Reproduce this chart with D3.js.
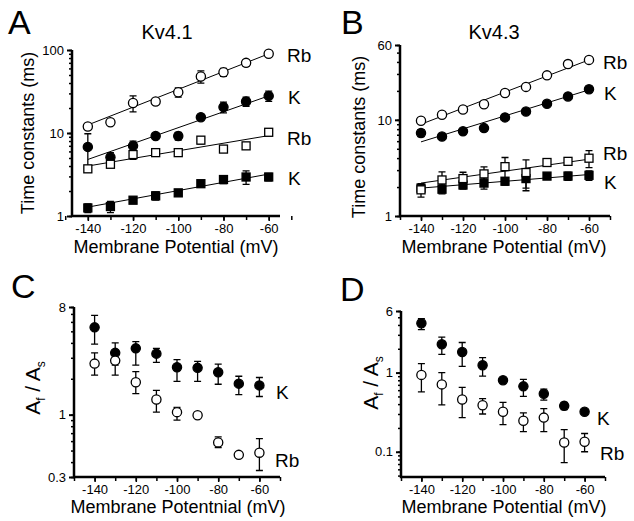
<!DOCTYPE html>
<html lang="en">
<head>
<meta charset="UTF-8">
<title></title>
<script src="https://d3js.org/d3.v7.min.js"></script>
<style>
  body { margin: 0; background: #fff; }
  text { font-family: Arial, "Liberation Sans", sans-serif; fill: #000; }
</style>
</head>
<body>
<script>

var w = 634;
var h = 521;

var volts = [-140, -130, -120, -110, -100, -90, -80, -70, -60];

// panel A, Kv4.1 time constants (ms)
var aRbSlow = [12, 13.5, 23, 24, 31, 48, 54, 70, 90];
var aRbSlowErr = [1, 1, 5, 2, 4, 8, 6, 6, 5];
var aKSlow = [6.8, 5.1, 7.0, 9.2, 9.2, 15.5, 20.5, 24, 28];
var aKSlowErr = [3, 0.7, 1, 0.5, 1, 1, 3, 3, 4];
var aRbFast = [3.7, 4.2, 5.5, 5.8, 5.8, 8.2, 6.4, 7.0, 10.2];
var aRbFastErr = [0.3, 0.3, 0.7, 0.3, 0.3, 0.8, 0.4, 0.4, 0.7];
var aKFast = [1.25, 1.3, 1.55, 1.75, 1.9, 2.45, 2.75, 2.95, 2.95];
var aKFastErr = [0.15, 0.2, 0.1, 0.2, 0.15, 0.1, 0.3, 0.55, 0.3];
var aFits = [[12.5, 90], [4.8, 28], [4.0, 9.3], [1.28, 3.2]];

// panel B, Kv4.3 time constants (ms)
var bRbSlow = [9.8, 11.3, 12.8, 14.5, 19, 22, 29, 38, 42];
var bRbSlowErr = [0.5, 0.5, 0.6, 0.6, 0.8, 0.8, 1, 1.5, 1.5];
var bKSlow = [7.3, 6.7, 7.6, 8.2, 10.6, 12.2, 14.7, 17.5, 20.8];
var bKSlowErr = [0.6, 0.4, 0.4, 0.5, 0.5, 0.5, 0.6, 0.8, 1.5];
var bRbFast = [1.87, 2.37, 2.45, 2.74, 3.26, 2.83, 3.6, 3.7, 3.99];
var bRbFastErr = [0.3, 0.5, 0.4, 0.5, 0.8, 1.0, 0.2, 0.3, 0.8];
var bKFast = [1.95, 1.9, 2.1, 2.2, 2.3, 2.45, 2.6, 2.6, 2.65];
var bKFastErr = [0.15, 0.2, 0.2, 0.3, 0.2, 0.5, 0.15, 0.25, 0.3];
var bFits = [[9.0, 42], [5.9, 20.5], [2.2, 3.9], [1.95, 2.7]];

// panel C, Kv4.1 Af / As
var cK = [5.4, 3.3, 3.6, 3.25, 2.5, 2.47, 2.27, 1.82, 1.76];
var cKLo = [3.9, 2.6, 2.6, 2.75, 1.9, 1.9, 1.8, 1.47, 1.42];
var cKHi = [6.8, 4.0, 4.1, 3.6, 2.9, 2.8, 2.65, 2.1, 2.05];
var cRb = [2.68, 2.84, 1.87, 1.34, 1.05, 0.99, 0.585, 0.46, 0.48];
var cRbLo = [2.15, 2.15, 1.5, 1.05, 0.9, 0.96, 0.53, 0.44, 0.34];
var cRbHi = [3.3, 3.3, 2.3, 1.6, 1.15, 1.02, 0.65, 0.48, 0.63];

// panel D, Kv4.3 Af / As
var dK = [4.2, 2.28, 1.82, 1.24, 0.8, 0.67, 0.54, 0.38, 0.32];
var dKLo = [3.5, 1.7, 1.2, 0.9, 0.76, 0.5, 0.45, 0.34, 0.3];
var dKHi = [4.8, 2.8, 2.4, 1.55, 0.84, 0.82, 0.62, 0.42, 0.34];
var dRb = [0.935, 0.71, 0.457, 0.387, 0.32, 0.246, 0.27, 0.131, 0.134];
var dRbLo = [0.57, 0.39, 0.27, 0.3, 0.22, 0.18, 0.18, 0.073, 0.1];
var dRbHi = [1.3, 1.0, 0.65, 0.47, 0.42, 0.31, 0.35, 0.19, 0.17];

var xTicks = [-140, -120, -100, -80, -60];

var svg = d3.select("body")
    .append("svg")
    .attr("width", w)
    .attr("height", h);

function withErr(vals, err) {
    return vals.map(function(v, i) { return {x: volts[i], y: v, lo: v - err[i], hi: v + err[i]}; });
}
function withBounds(vals, lo, hi) {
    return vals.map(function(v, i) { return {x: volts[i], y: v, lo: lo[i], hi: hi[i]}; });
}

function drawPanel(p) {
    var g = svg.append("g");
    var x = d3.scaleLinear().domain(p.xDomain).range(p.xRange);
    var y = d3.scaleLog().domain(p.yDomain).range(p.yRange);

    // y axis: minor log ticks, labelled majors
    var yAxis = d3.axisLeft(y)
        .tickValues(y.ticks())
        .tickSize(3)
        .tickFormat("");
    var ya = g.append("g")
        .attr("transform", "translate(" + p.xRange[0] + ",0)")
        .call(yAxis);
    ya.selectAll(".tick line").attr("stroke-width", 1.5);
    ya.select(".domain").remove();

    var yMaj = d3.axisLeft(y)
        .tickValues(p.yTicks)
        .tickSize(5)
        .tickPadding(3)
        .tickFormat(function(d) { return d; });
    var ym = g.append("g")
        .attr("transform", "translate(" + p.xRange[0] + ",0)")
        .call(yMaj);
    ym.select(".domain").remove();
    ym.selectAll(".tick line").attr("stroke-width", 2);
    ym.selectAll("text").attr("font-size", 13).style("font-family", "Arial, 'Liberation Sans', sans-serif");

    // x axis
    var xMinor = d3.axisBottom(x)
        .tickValues(d3.range(-150, -49, 10))
        .tickSize(4)
        .tickFormat("");
    var xm = g.append("g")
        .attr("transform", "translate(0," + p.yRange[0] + ")")
        .call(xMinor);
    xm.select(".domain").remove();
    xm.selectAll(".tick line").attr("stroke-width", 1.5);

    var xAxis = d3.axisBottom(x)
        .tickValues(xTicks)
        .tickSize(5)
        .tickPadding(3)
        .tickFormat(function(d) { return d; });
    var xa = g.append("g")
        .attr("transform", "translate(0," + p.yRange[0] + ")")
        .call(xAxis);
    xa.select(".domain").remove();
    xa.selectAll(".tick line").attr("stroke-width", 1.5);
    xa.selectAll("text").attr("font-size", 13).style("font-family", "Arial, 'Liberation Sans', sans-serif");

    // axis lines
    g.append("path")
        .attr("d", "M" + p.xRange[0] + "," + p.yRange[1] + "V" + p.yRange[0] + "H" + p.xRange[1])
        .attr("fill", "none")
        .attr("stroke", "#000")
        .attr("stroke-width", 2.5);

    // fit lines
    (p.fits || []).forEach(function(f) {
        g.append("line")
            .attr("x1", x(-140)).attr("y1", y(f[0]))
            .attr("x2", x(-60)).attr("y2", y(f[1]))
            .attr("stroke", "#000")
            .attr("stroke-width", 1);
    });

    p.series.forEach(function(s) {
        var sg = g.append("g");
        sg.selectAll(".err")
            .data(s.data)
            .enter()
            .append("path")
            .attr("d", function(d) {
                var xx = x(d.x), y0 = y(d.lo), y1 = y(d.hi);
                return "M" + xx + "," + y0 + "V" + y1 +
                    "M" + (xx - 3.5) + "," + y0 + "H" + (xx + 3.5) +
                    "M" + (xx - 3.5) + "," + y1 + "H" + (xx + 3.5);
            })
            .attr("stroke", "#000")
            .attr("stroke-width", 1.3)
            .attr("fill", "none");
        if (s.shape == "square") {
            sg.selectAll(".pt")
                .data(s.data)
                .enter()
                .append("rect")
                .attr("x", function(d) { return x(d.x) - 4; })
                .attr("y", function(d) { return y(d.y) - 4; })
                .attr("width", 8)
                .attr("height", 8)
                .attr("fill", s.filled ? "#000" : "#fff")
                .attr("stroke", "#000")
                .attr("stroke-width", 1.3);
        } else {
            sg.selectAll(".pt")
                .data(s.data)
                .enter()
                .append("circle")
                .attr("cx", function(d) { return x(d.x); })
                .attr("cy", function(d) { return y(d.y); })
                .attr("r", 4.6)
                .attr("fill", s.filled ? "#000" : "#fff")
                .attr("stroke", "#000")
                .attr("stroke-width", 1.3);
        }
    });

    p.labels.forEach(function(l) {
        g.append("text")
            .text(l.t)
            .attr("x", l.x)
            .attr("y", l.y)
            .attr("font-size", 19);
    });

    g.append("text")
        .text(p.letter)
        .attr("x", p.letterPos[0])
        .attr("y", p.letterPos[1])
        .attr("font-size", 34);

    if (p.title) {
        g.append("text")
            .text(p.title)
            .attr("x", p.titlePos[0])
            .attr("y", p.titlePos[1])
            .attr("text-anchor", "middle")
            .attr("font-size", 20);
    }

    g.append("text")
        .text(p.xTitle)
        .attr("x", p.xTitlePos[0])
        .attr("y", p.xTitlePos[1])
        .attr("text-anchor", "middle")
        .attr("font-size", 18);

    var yt = g.append("text")
        .attr("transform", "translate(" + p.yTitlePos[0] + "," + p.yTitlePos[1] + ") rotate(-90)")
        .attr("text-anchor", "middle")
        .attr("font-size", p.ratio ? 21 : 18);
    if (p.ratio) {
        yt.append("tspan").text("A");
        yt.append("tspan").text("f").attr("font-size", 12).attr("dy", 5);
        yt.append("tspan").text(" / A").attr("dy", -5);
        yt.append("tspan").text("s").attr("font-size", 12).attr("dy", 5);
    } else {
        yt.text("Time constants (ms)");
    }
}

drawPanel({
    letter: "A", letterPos: [8, 34],
    title: "Kv4.1", titlePos: [167, 39],
    xDomain: [-147, -55], xRange: [72, 280],
    yDomain: [1, 100], yRange: [216, 50], yTicks: [1, 10, 100],
    fits: aFits,
    series: [
        {data: withErr(aRbSlow, aRbSlowErr), shape: "circle", filled: false},
        {data: withErr(aKSlow, aKSlowErr), shape: "circle", filled: true},
        {data: withErr(aRbFast, aRbFastErr), shape: "square", filled: false},
        {data: withErr(aKFast, aKFastErr), shape: "square", filled: true}
    ],
    labels: [{t: "Rb", x: 287, y: 62}, {t: "K", x: 288, y: 104}, {t: "Rb", x: 287, y: 145}, {t: "K", x: 288, y: 185}],
    xTitle: "Membrane Potential (mV)", xTitlePos: [176, 253],
    yTitlePos: [34, 133]
});

drawPanel({
    letter: "B", letterPos: [341, 34],
    title: "Kv4.3", titlePos: [494, 39],
    xDomain: [-150, -50], xRange: [400, 610],
    yDomain: [1, 60], yRange: [216, 45], yTicks: [1, 10, 60],
    fits: bFits,
    series: [
        {data: withErr(bRbSlow, bRbSlowErr), shape: "circle", filled: false},
        {data: withErr(bKSlow, bKSlowErr), shape: "circle", filled: true},
        {data: withErr(bKFast, bKFastErr), shape: "square", filled: true},
        {data: withErr(bRbFast, bRbFastErr), shape: "square", filled: false}
    ],
    labels: [{t: "Rb", x: 603, y: 69}, {t: "K", x: 604, y: 100}, {t: "Rb", x: 603, y: 160}, {t: "K", x: 604, y: 189}],
    xTitle: "Membrane Potential (mV)", xTitlePos: [504, 253],
    yTitlePos: [365, 137]
});

drawPanel({
    letter: "C", letterPos: [11, 298],
    xDomain: [-150, -50], xRange: [74, 280],
    yDomain: [0.3, 8], yRange: [477, 307], yTicks: [0.3, 1, 8],
    series: [
        {data: withBounds(cK, cKLo, cKHi), shape: "circle", filled: true},
        {data: withBounds(cRb, cRbLo, cRbHi), shape: "circle", filled: false}
    ],
    labels: [{t: "K", x: 276, y: 399}, {t: "Rb", x: 275, y: 467}],
    xTitle: "Membrane Potentnial (mV)", xTitlePos: [178, 513],
    yTitlePos: [40, 388], ratio: true
});

drawPanel({
    letter: "D", letterPos: [340, 301],
    xDomain: [-150, -50], xRange: [401, 605],
    yDomain: [0.048, 6], yRange: [477, 311], yTicks: [0.1, 1, 6],
    series: [
        {data: withBounds(dK, dKLo, dKHi), shape: "circle", filled: true},
        {data: withBounds(dRb, dRbLo, dRbHi), shape: "circle", filled: false}
    ],
    labels: [{t: "K", x: 597, y: 425}, {t: "Rb", x: 600, y: 460}],
    xTitle: "Membrane Potential (mV)", xTitlePos: [504, 513],
    yTitlePos: [378, 383], ratio: true
});

</script>
</body>
</html>
